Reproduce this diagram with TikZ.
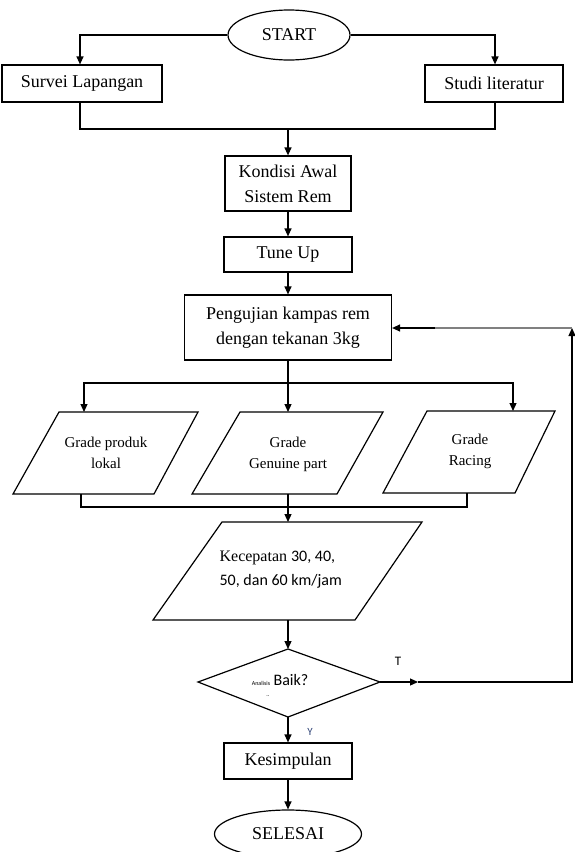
\documentclass[tikz,border=0pt]{standalone}
\usepackage{fontspec}
\setmainfont{Liberation Serif}
\newfontfamily\carl{Carlito}
\usetikzlibrary{shapes.geometric,arrows.meta}
\begin{document}
\begin{tikzpicture}[x=1pt,y=-1pt,line width=1.2pt,
  box/.style={draw,rectangle,inner sep=0pt,align=center,font=\fontsize{18}{25}\selectfont},
  term/.style={draw,ellipse,inner sep=0pt,font=\fontsize{18}{22}\selectfont},
  para/.style={draw,line join=miter},
  ptext/.style={align=center,inner sep=0pt,font=\fontsize{15}{21}\selectfont},
  arr/.style={-{Triangle[length=8pt,width=7pt]}},
  lbl/.style={inner sep=0pt,font=\carl\fontsize{13}{15}\selectfont}
]
\useasboundingbox (0,0) rectangle (574,852);
% terminals and boxes
\node[term,minimum width=122pt,minimum height=50pt] (start) at (289,35) {START};
\node[box,minimum width=160pt,minimum height=37pt] (surv) at (82,83.5) {Survei Lapangan};
\node[box,minimum width=138pt,minimum height=37pt] (stud) at (494,83.5) {Studi literatur};
\node[box,minimum width=126pt,minimum height=55pt] (kond) at (288,183.5) {Kondisi Awal\\Sistem Rem};
\node[box,minimum width=128pt,minimum height=35pt] (tune) at (288,254.5) {Tune Up};
\node[box,minimum width=207pt,minimum height=65pt] (peng) at (288,327.5) {Pengujian kampas rem\\dengan tekanan 3kg};
\node[box,minimum width=128pt,minimum height=36pt] (kes) at (288,761) {Kesimpulan};
\node[term,minimum width=147pt,minimum height=48pt] (sel) at (288,834) {SELESAI};

% parallelograms
\draw[para] (59,412) -- (198,412) -- (154,494) -- (13,494) -- cycle;
\draw[para] (240,412) -- (383,412) -- (337,494) -- (192,494) -- cycle;
\draw[para] (427,411) -- (555,411) -- (515,493) -- (383,493) -- cycle;
\node[ptext] (g1) at (106,453) {Grade produk\\lokal};
\node[ptext] (g2) at (288,454) {Grade\\Genuine part};
\node[ptext] (g3) at (470,451) {Grade\\Racing};
\draw[para] (222,522) -- (422,522) -- (355,620) -- (153,620) -- cycle;
\node[anchor=west,align=left,inner sep=0pt,font=\fontsize{16}{24}\selectfont] (kec) at (219,570)
  {Kecepatan {\carl 30, 40,}\\{\carl 50, dan 60 km/jam}};

% decision
\coordinate (dN) at (288,649);
\coordinate (dE) at (380,682);
\coordinate (dS) at (288,717);
\coordinate (dW) at (198,682);
\draw[para] (dN) -- (dE) -- (dS) -- (dW) -- cycle;
\node[inner sep=0pt,font=\carl\fontsize{6}{7}\selectfont] (an) at (261,683) {Analisis};
\node[anchor=west,inner sep=0pt,font=\carl\fontsize{16}{18}\selectfont] (baik) at (273,680) {Baik?};
\node[inner sep=0pt,font=\carl\fontsize{6}{7}\selectfont] (dots) at (268,696) {..};

% connectors top
\draw[arr] (start.west) -| ([xshift=-2pt]surv.north);
\draw[arr] (start.east) -| ([xshift=1pt]stud.north);
\coordinate (sb) at (80,129);
\coordinate (tb) at (495,129);
\coordinate (j1) at (288,129);
\draw ([xshift=-2pt]surv.south) -- (sb) -- (tb) -- ([xshift=1pt]stud.south);
\draw[arr] (j1) -- (kond.north);
\draw[arr] (kond) -- (tune);
\draw[arr] (tune) -- (peng);

% split to grades
\coordinate (j2) at (288,383);
\coordinate (p1t) at (84,412);
\coordinate (p2t) at (288,412);
\coordinate (p3t) at (513,411);
\draw (peng.south) -- (j2);
\draw[arr] (j2) -| (p1t);
\draw[arr] (j2) -| (p3t);
\draw[arr] (j2) -- (p2t);

% collect
\coordinate (p1b) at (81,494);
\coordinate (p2b) at (288,494);
\coordinate (p3b) at (467,493);
\coordinate (c1) at (81,507);
\coordinate (c3) at (467,507);
\coordinate (kt) at (288,522);
\coordinate (kb) at (288,620);
\draw (p1b) -- (c1) -- (c3) -- (p3b);
\draw[arr] (p2b) -- (kt);
\draw[arr] (kb) -- (dN);

% loop back (T)
\coordinate (tm) at (418,682);
\coordinate (rc) at (572,682);
\coordinate (rt) at (572,328);
\coordinate (gm) at (435,328);
\draw[arr] (dE) -- (tm);
\draw[arr] (tm) -- (rc) -- (rt);
\draw[gray] (rt) -- (gm);
\draw[arr] (gm) -- (peng.east |- gm);
\node[lbl] (tl) at (398,661) {T};

% yes
\draw[arr] (dS) -- (kes);
\node[lbl,font=\carl\fontsize{11}{12}\selectfont,text={rgb,255:red,50;green,70;blue,120}] (yl) at (310,732) {Y};
\draw[arr] (kes) -- (sel);
\end{tikzpicture}
\end{document}
